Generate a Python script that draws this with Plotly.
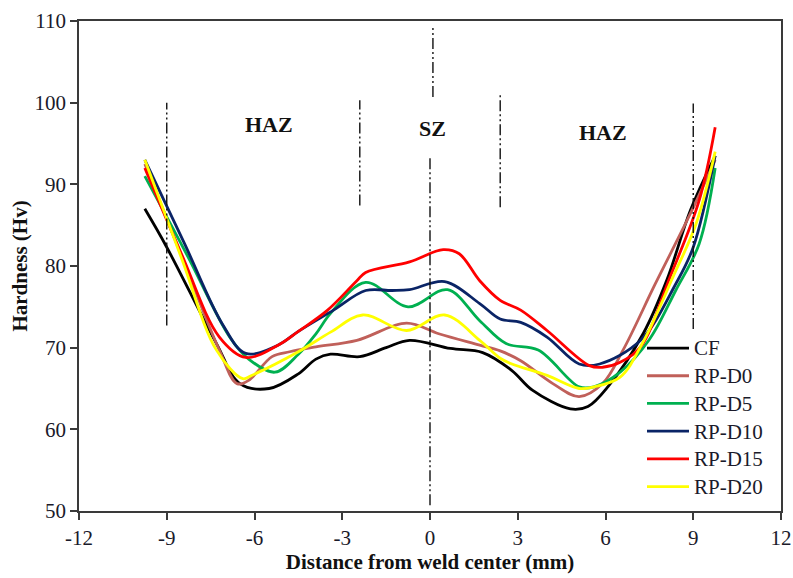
import plotly.graph_objects as go

# ---------------- data ----------------
series_names = ["CF", "RP-D0", "RP-D5", "RP-D10", "RP-D15", "RP-D20"]
series_colors = ["#000000", "#C0605A", "#00B050", "#0A2466", "#FF0000", "#FFFF00"]

cf_x = [-9.75, -9.0, -7.3, -6.5, -5.5, -4.5, -3.9, -3.4, -2.4, -1.5, -0.7, 0.7, 1.8, 2.8, 3.5, 4.8, 5.4, 6.1, 7.3, 8.1, 8.9, 9.75]
cf_y = [87, 82.3, 70.5, 65.6, 65.0, 66.8, 68.6, 69.2, 68.9, 70.0, 70.9, 69.9, 69.4, 67.2, 64.8, 62.5, 62.8, 65.3, 71.8, 78.3, 86.8, 93.5]

d0_x = [-9.75, -8.5, -7.2, -6.6, -6.2, -5.4, -4.8, -3.9, -2.5, -0.8, 0.3, 1.7, 2.4, 3.1, 4.2, 5.1, 5.9, 6.6, 7.7, 8.9, 9.75]
d0_y = [92.5, 81.3, 69.7, 65.6, 66.0, 68.9, 69.5, 70.1, 70.9, 73.0, 71.7, 70.3, 69.6, 68.4, 65.6, 64.0, 65.6, 69.7, 77.8, 86.4, 93.0]

d5_x = [-9.75, -8.3, -6.85, -6.2, -5.3, -4.5, -3.9, -3.4, -2.2, -0.75, 0.6, 1.7, 2.6, 3.7, 5.1, 5.6, 6.5, 7.5, 8.4, 9.2, 9.75]
d5_y = [91.0, 81.3, 71.3, 68.6, 67.0, 69.2, 71.7, 74.2, 78.0, 75.0, 77.1, 73.3, 70.5, 69.7, 65.2, 65.2, 67.0, 71.0, 77.0, 82.7, 92.0]

d10_x = [-9.75, -8.4, -7.1, -6.3, -5.2, -4.5, -3.3, -2.2, -1.3, -0.7, 0.5, 1.7, 2.4, 3.1, 4.0, 5.1, 5.8, 7.2, 8.4, 9.0, 9.75]
d10_y = [93.0, 82.8, 72.9, 69.3, 70.3, 72.0, 74.6, 77.0, 77.0, 77.1, 78.1, 75.4, 73.5, 73.1, 71.3, 68.0, 68.0, 70.9, 77.8, 82.3, 93.5]

d15_x = [-9.75, -8.5, -7.2, -6.3, -5.2, -4.5, -3.5, -2.5, -2.2, -0.7, 0.45, 1.0, 1.7, 2.4, 3.1, 4.0, 5.45, 5.9, 6.5, 7.2, 8.2, 9.2, 9.75]
d15_y = [92.0, 81.5, 71.3, 68.8, 70.3, 72.0, 74.6, 78.2, 79.2, 80.5, 82.0, 81.5, 78.2, 75.8, 74.6, 72.1, 67.8, 67.6, 68.2, 70.1, 78.6, 88.0, 97.0]

d20_x = [-9.75, -8.5, -7.3, -6.4, -6.1, -4.5, -3.4, -2.3, -0.8, 0.5, 1.7, 2.4, 2.8, 4.0, 5.1, 5.6, 6.5, 7.3, 8.3, 9.1, 9.75]
d20_y = [93.0, 81.0, 69.7, 66.2, 66.6, 69.5, 71.9, 74.0, 72.1, 74.0, 70.9, 68.7, 68.0, 66.6, 65.0, 65.2, 66.4, 70.8, 78.6, 85.2, 94.0]

series_x = [cf_x, d0_x, d5_x, d10_x, d15_x, d20_x]
series_y = [cf_y, d0_y, d5_y, d10_y, d15_y, d20_y]

# zone boundary lines (x position, y from, y to)
bound_x = [-9.0, -2.4, 0.1, 0.0, 2.4, 9.0]
bound_y0 = [72.7, 87.4, 100.7, 50.7, 87.2, 72.3]
bound_y1 = [100.0, 100.3, 109.3, 93.5, 100.9, 99.9]

zone_labels = ["HAZ", "SZ", "HAZ"]
zone_label_x = [-5.5, 0.1, 5.9]
zone_label_y = [97.3, 96.8, 96.4]

x_ticks = [-12, -9, -6, -3, 0, 3, 6, 9, 12]
x_tick_labels = ["-12", "-9", "-6", "-3", "0", "3", "6", "9", "12"]
y_ticks = [50, 60, 70, 80, 90, 100, 110]
y_tick_labels = ["50", "60", "70", "80", "90", "100", "110"]

# ---------------- figure ----------------
FONT = "Liberation Serif, Times New Roman, serif"
fig = go.Figure()

for name, color, xs, ys in zip(series_names, series_colors, series_x, series_y):
    fig.add_trace(go.Scatter(
        x=xs, y=ys, mode="lines",
        name='<span style="font-size:21px">%s</span>' % name,
        line=dict(color=color, width=2.8, shape="spline", smoothing=1.0),
    ))

for bx, b0, b1 in zip(bound_x, bound_y0, bound_y1):
    fig.add_shape(type="line", xref="x", yref="y", x0=bx, x1=bx, y0=b0, y1=b1,
                  line=dict(color="#111111", width=1.4, dash="11px,3px,2px,3px,2px,3px"))

for t, lx, ly in zip(zone_labels, zone_label_x, zone_label_y):
    fig.add_annotation(x=lx, y=ly, text="<b>%s</b>" % t, showarrow=False,
                       font=dict(family=FONT, size=22, color="#111111"))

axis_common = dict(
    showgrid=False, zeroline=False, showline=True, mirror=True, automargin=False,
    linecolor="#3a3a3a", linewidth=1.5, ticks="outside", ticklen=7,
    tickwidth=1.5, tickcolor="#3a3a3a",
    tickfont=dict(family=FONT, size=21, color="#1a1a2a"),
)

fig.update_xaxes(range=[-12, 12], tickvals=x_ticks, ticktext=x_tick_labels, **axis_common,
                 title=dict(text="<b>Distance from weld center (mm)</b>",
                            font=dict(family=FONT, size=21, color="#111111"), standoff=2))
fig.update_yaxes(range=[50, 110], tickvals=y_ticks, ticktext=y_tick_labels, **axis_common,
                 title=dict(text="<b>Hardness (Hv)</b>",
                            font=dict(family=FONT, size=21, color="#111111"), standoff=1))

fig.update_layout(
    width=793, height=578,
    margin=dict(l=79, r=12, t=21, b=67),
    paper_bgcolor="white", plot_bgcolor="white",
    showlegend=True,
    legend=dict(x=0.802, y=0.371, xanchor="left", yanchor="top",
                bgcolor="rgba(0,0,0,0)", borderwidth=0,
                font=dict(family=FONT, size=19, color="#1a1a2a"),
                tracegroupgap=0, itemwidth=42),
)

fig.write_html("out.html")
